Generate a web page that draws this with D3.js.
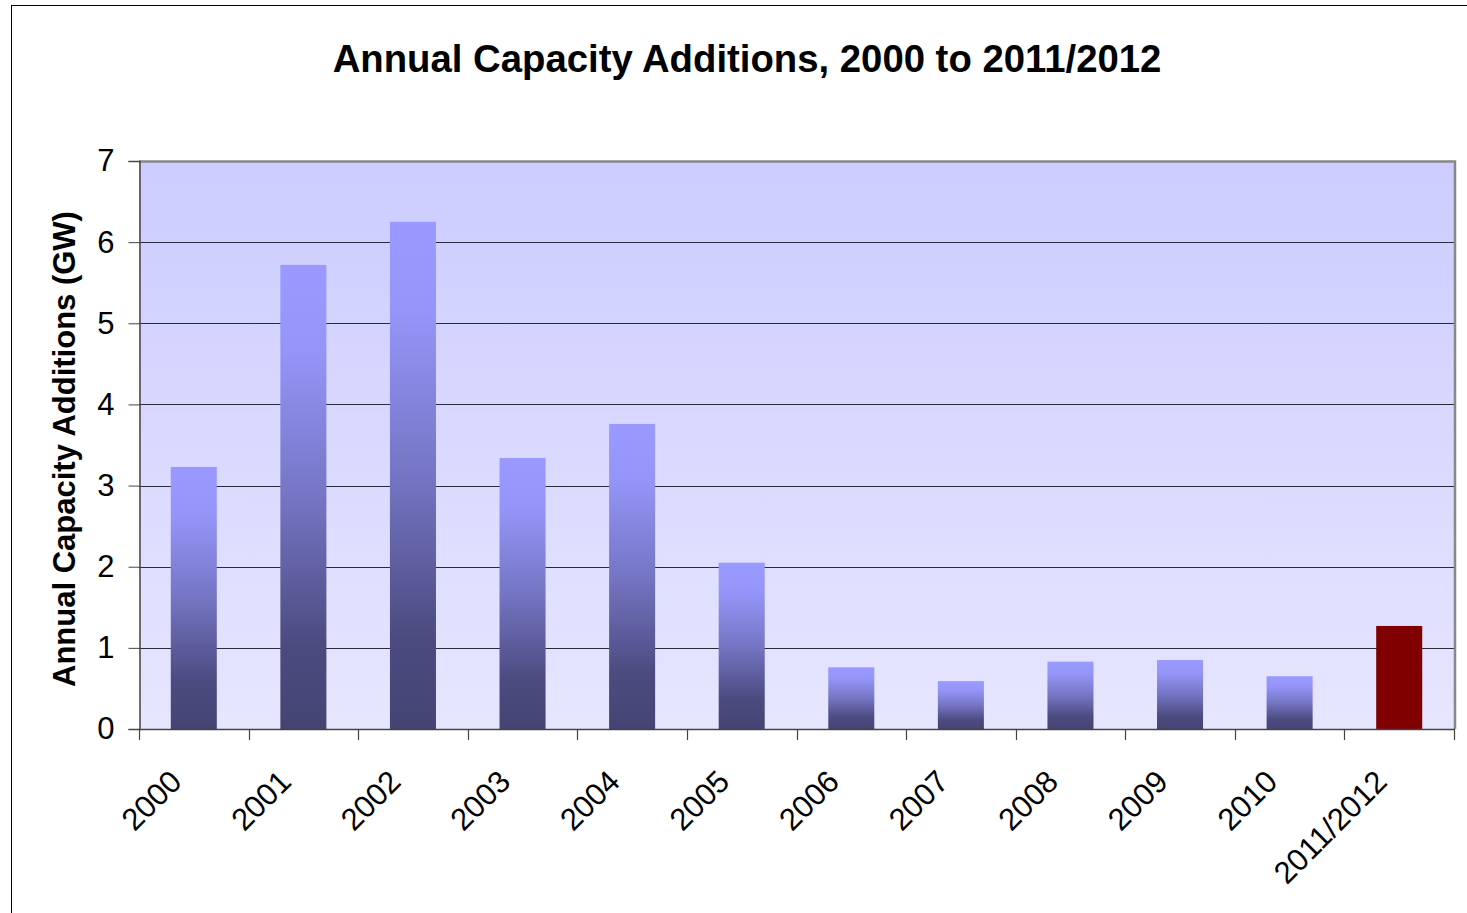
<!DOCTYPE html>
<html>
<head>
<meta charset="utf-8">
<script src="https://cdn.jsdelivr.net/npm/d3@7"></script>
<style>
  html, body { margin: 0; padding: 0; background: #fff; }
  svg { display: block; }
  text { font-family: "Liberation Sans", Arial, sans-serif; }
</style>
</head>
<body>
<svg id="chart" width="1467" height="913"></svg>
<script>
// Annual capacity additions (GW)
const categories = ["2000", "2001", "2002", "2003", "2004", "2005", "2006", "2007", "2008", "2009", "2010", "2011/2012"];
const values = [3.23, 5.72, 6.25, 3.34, 3.76, 2.05, 0.76, 0.59, 0.83, 0.85, 0.65, 1.27];
const highlighted = ["2011/2012"];
const yTicks = [0, 1, 2, 3, 4, 5, 6, 7];

const titleText = "Annual Capacity Additions, 2000 to 2011/2012";
const yTitleText = "Annual Capacity Additions (GW)";

const W = 1467, H = 913;
const plot = { left: 139, top: 161, right: 1454, bottom: 729 };

const svg = d3.select("#chart");
const defs = svg.append("defs");

// plot area background: light lavender, lighter toward the bottom
const bg = defs.append("linearGradient").attr("id", "plotBg")
  .attr("x1", 0).attr("y1", 0).attr("x2", 0).attr("y2", 1);
bg.append("stop").attr("offset", "0%").attr("stop-color", "#ccccff");
bg.append("stop").attr("offset", "100%").attr("stop-color", "#e6e6ff");

// bar fill: periwinkle at the top fading to dark slate at the base
const barGrad = defs.append("linearGradient").attr("id", "barFill")
  .attr("x1", 0).attr("y1", 0).attr("x2", 0).attr("y2", 1);
[["0%", "#9999ff"], ["18%", "#9595f9"], ["50%", "#7575c4"], ["82%", "#4b4b80"], ["100%", "#444474"]]
  .forEach(([o, c]) => barGrad.append("stop").attr("offset", o).attr("stop-color", c));

// outer chart frame
svg.append("rect")
  .attr("x", 11.5).attr("y", 5.5)
  .attr("width", W + 20).attr("height", H + 20)
  .attr("fill", "#fff").attr("stroke", "#000").attr("stroke-width", 1);

const x = d3.scaleBand().domain(categories).range([plot.left, plot.right]).padding(0);
const y = d3.scaleLinear().domain([0, 7]).range([plot.bottom, plot.top]);

// plot background
svg.append("rect")
  .attr("x", plot.left).attr("y", plot.top)
  .attr("width", plot.right - plot.left).attr("height", plot.bottom - plot.top)
  .attr("fill", "url(#plotBg)");

// horizontal gridlines
svg.append("g")
  .selectAll("line")
  .data(yTicks.filter(t => t > 0 && t < 7))
  .join("line")
  .attr("x1", plot.left).attr("x2", plot.right)
  .attr("y1", d => Math.round(y(d)) + 0.5).attr("y2", d => Math.round(y(d)) + 0.5)
  .attr("stroke", "#2a2a3a").attr("stroke-width", 1);

// plot border (top and right in gray)
svg.append("path")
  .attr("d", `M${plot.left},${plot.top + 0.5} H${plot.right + 1} V${plot.bottom}`)
  .attr("fill", "none").attr("stroke", "#888").attr("stroke-width", 2.5);

// bars
const barFrac = 0.42;
svg.append("g")
  .selectAll("rect")
  .data(categories.map((c, i) => ({ c, v: values[i] })))
  .join("rect")
  .attr("x", d => x(d.c) + x.bandwidth() * (1 - barFrac) / 2)
  .attr("width", x.bandwidth() * barFrac)
  .attr("y", d => y(d.v))
  .attr("height", d => y(0) - y(d.v))
  .attr("fill", d => highlighted.includes(d.c) ? "#800000" : "url(#barFill)");

// y axis
const yAxis = d3.axisLeft(y).tickValues(yTicks).tickSize(11).tickPadding(14).tickFormat(d3.format("d"));
const gy = svg.append("g").attr("transform", `translate(${plot.left + 0.5},0)`).call(yAxis);
gy.select(".domain").attr("stroke", "#444").attr("stroke-width", 1.5);
gy.selectAll(".tick line").attr("stroke", "#444");
gy.selectAll(".tick text")
  .attr("font-size", 31).attr("fill", "#000")
  .attr("font-family", "'Liberation Sans', Arial, sans-serif");

// x axis with ticks at band boundaries
svg.append("line")
  .attr("x1", plot.left).attr("x2", plot.right + 1)
  .attr("y1", plot.bottom + 0.5).attr("y2", plot.bottom + 0.5)
  .attr("stroke", "#444").attr("stroke-width", 1.5);
const bounds = categories.map(c => x(c)).concat([plot.right]);
svg.append("g")
  .selectAll("line")
  .data(bounds)
  .join("line")
  .attr("x1", d => Math.round(d) + 0.5).attr("x2", d => Math.round(d) + 0.5)
  .attr("y1", plot.bottom).attr("y2", plot.bottom + 11)
  .attr("stroke", "#444").attr("stroke-width", 1.2);

// rotated category labels
svg.append("g")
  .selectAll("text")
  .data(categories)
  .join("text")
  .attr("transform", d => `translate(${x(d) + x.bandwidth() / 2 - 26},${plot.bottom + 39}) rotate(-45)`)
  .attr("text-anchor", "end")
  .attr("dy", "0.71em")
  .attr("font-size", 31)
  .attr("fill", "#000")
  .text(d => d);

// chart title
svg.append("text")
  .attr("x", 747).attr("y", 72)
  .attr("text-anchor", "middle")
  .attr("font-size", 38.3).attr("font-weight", "bold")
  .attr("fill", "#000")
  .text(titleText);

// y axis title
svg.append("text")
  .attr("transform", `translate(75,${(plot.top + plot.bottom) / 2 + 4}) rotate(-90)`)
  .attr("text-anchor", "middle")
  .attr("font-size", 31).attr("font-weight", "bold")
  .attr("fill", "#000")
  .text(yTitleText);
</script>
</body>
</html>
